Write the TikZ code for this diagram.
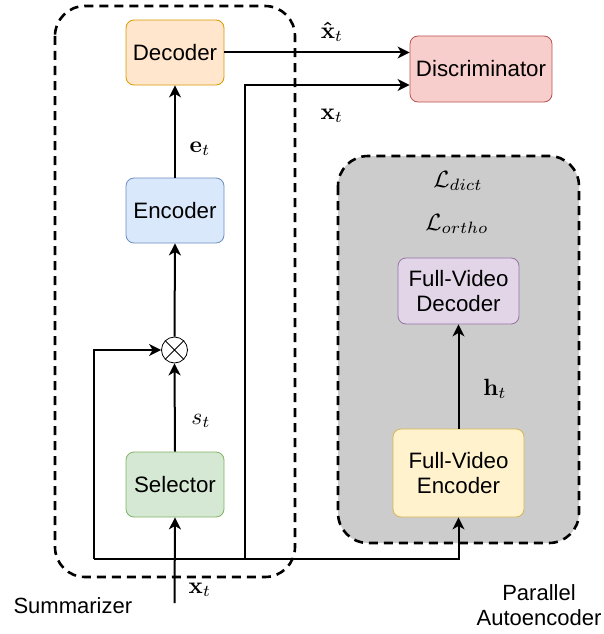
\documentclass[tikz,border=0pt]{standalone}
\usepackage[no-math]{fontspec}
\setmainfont{Liberation Sans}
\usepackage{amsmath,bm,graphicx}
\usetikzlibrary{arrows.meta}

\definecolor{decfill}{HTML}{FFE6CC}\definecolor{decline}{HTML}{D79B00}
\definecolor{encfill}{HTML}{DAE8FC}\definecolor{encline}{HTML}{6C8EBF}
\definecolor{selfill}{HTML}{D5E8D4}\definecolor{selline}{HTML}{82B366}
\definecolor{disfill}{HTML}{F8CECC}\definecolor{disline}{HTML}{B85450}
\definecolor{fvdfill}{HTML}{E1D5E7}\definecolor{fvdline}{HTML}{9673A6}
\definecolor{fvefill}{HTML}{FFF2CC}\definecolor{fveline}{HTML}{D6B656}
\definecolor{groupgray}{HTML}{CCCCCC}

% math labels, enlarged
\newcommand{\biglbl}[1]{\scalebox{2.35}{$#1$}}

\begin{document}
\begin{tikzpicture}[x=1pt,y=-1pt,
  blk/.style={draw, rounded corners=8pt, line width=0.8pt, align=center,
    inner sep=0pt, font=\fontsize{22.3}{25}\selectfont},
  small/.style={blk, minimum width=98pt, minimum height=65pt},
  flow/.style={line width=2pt, -{Stealth[length=12pt,width=12pt,inset=3.5pt]}},
  wire/.style={line width=2pt},
  group/.style={line width=2.6pt, dash pattern=on 9pt off 6pt, rounded corners=30pt},
  lbl/.style={inner sep=0pt},
  caption/.style={font=\fontsize{22}{25}\selectfont, align=center}
]
\useasboundingbox (0,0) rectangle (603,634);

% parallel autoencoder group
\draw[group, fill=groupgray] (338,156) rectangle (579,543);

% blocks
\node[small, fill=decfill, draw=decline] (dec) at (175,52.5) {Decoder};
\node[small, fill=encfill, draw=encline] (enc) at (175,210.5) {Encoder};
\node[small, fill=selfill, draw=selline] (sel) at (175,484.5) {Selector};
\node[blk, fill=disfill, draw=disline, minimum width=142pt, minimum height=66pt] (disc) at (481,69) {Discriminator};
\node[blk, fill=fvdfill, draw=fvdline, minimum width=121pt, minimum height=66pt] (fvd) at (458.5,291) {Full-Video\\Decoder};
\node[blk, fill=fvefill, draw=fveline, minimum width=131pt, minimum height=88pt] (fve) at (458.5,473) {Full-Video\\Encoder};
\node[circle, draw, line width=0.8pt, minimum size=26pt, inner sep=0pt] (mul) at (174.5,350) {};
\draw[line width=0.8pt] (mul.45) -- (mul.225) (mul.135) -- (mul.-45);

% routing points
\coordinate (in) at (174.5,603);
\coordinate (split) at (174.5,559);
\coordinate (lb) at (94,559);
\coordinate (tap) at (245,559);

% connectors
\draw[flow] (in) -- (sel.south);
\draw[flow] (sel.north) -- (mul.south);
\draw[flow] (mul.north) -- (enc.south);
\draw[flow] (enc.north) -- (dec.south);
\draw[wire] (split) -- (lb);
\draw[flow] (lb) |- (mul.west);
\draw[flow] (split) -| (fve.south);
\draw[flow] (tap) |- ([yshift=-16pt]disc.west);
\draw[flow] (dec.east) -- (dec.east -| disc.west);
\draw[flow] (fve.north) -- (fvd.south);

% summarizer group
\draw[group] (55,6) rectangle (295,577);

% labels
\node[lbl] (le) at (200,149) {\biglbl{\mathbf{e}_t}};
\node[lbl] (ls) at (201,421) {\biglbl{s_t}};
\node[lbl] (lx) at (200,590) {\biglbl{\mathbf{x}_t}};
\node[lbl] (lxh) at (332,32) {\biglbl{\bm{\hat{\mathbf{x}}}_t}};
\node[lbl] (lx2) at (332,116) {\biglbl{\mathbf{x}_t}};
\node[lbl] (lh) at (495,389) {\biglbl{\mathbf{h}_t}};
\node[lbl] (ld) at (458,181) {\biglbl{\mathcal{L}_{dict}}};
\node[lbl] (lo) at (457,224) {\biglbl{\mathcal{L}_{ortho}}};

\node[caption, anchor=west] (sum) at (10,606) {Summarizer};
\node[caption] (par) at (539,605) {Parallel\\Autoencoder};
\end{tikzpicture}
\end{document}
